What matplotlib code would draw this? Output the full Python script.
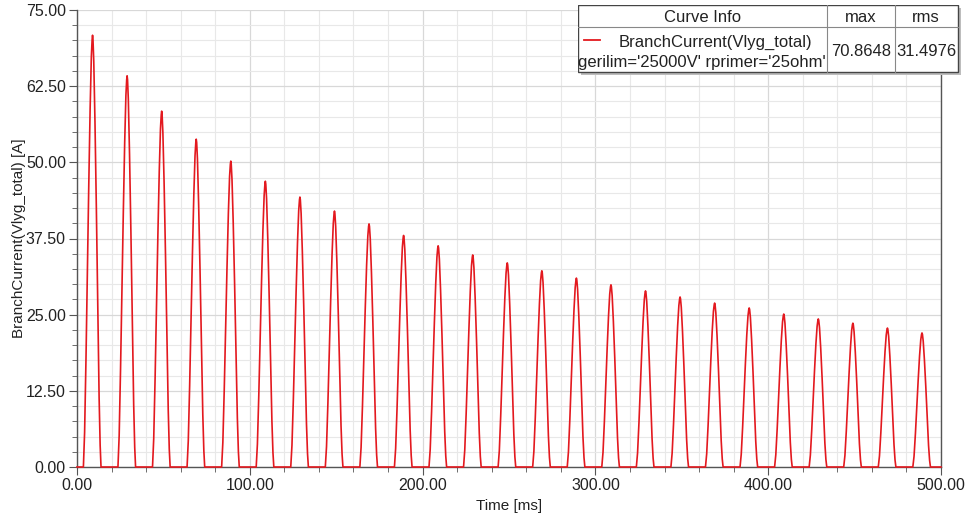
import numpy as np
import matplotlib.pyplot as plt
from matplotlib.patches import Rectangle
from matplotlib.ticker import MultipleLocator, FormatStrFormatter

plt.rcParams['font.family'] = ['Liberation Sans', 'DejaVu Sans']

# peak time (ms) and peak current (A) of every pulse
peak_times = [9, 29, 49, 69, 89, 109, 129, 149, 169, 189, 209, 229, 249,
              269, 289, 309, 329, 349, 369, 389, 409, 429, 449, 469, 489]
peak_values = [70.86, 64.2, 58.4, 53.8, 50.2, 46.9, 44.3, 42.0, 39.9, 38.0,
               36.3, 34.8, 33.5, 32.2, 31.0, 29.9, 28.9, 27.9, 26.9, 26.1,
               25.1, 24.3, 23.6, 22.8, 22.0]

# shape of a single pulse: offset from peak (ms) and fraction of the peak
pulse_offsets = [-5.3, -4.6, -3.8, -3.0, -2.2, -1.4, -0.7, -0.25, 0.0,
                 0.25, 0.7, 1.4, 2.2, 3.0, 3.8, 4.4, 4.9]
pulse_shape = [0.0, 0.08, 0.25, 0.45, 0.65, 0.83, 0.95, 0.99, 1.0,
               0.99, 0.94, 0.80, 0.60, 0.38, 0.16, 0.05, 0.0]

curve_name = "BranchCurrent(Vlyg_total)"
curve_params = "gerilim='25000V' rprimer='25ohm'"
curve_max = "70.8648"
curve_rms = "31.4976"

# build the waveform
t = [0.0]
y = [0.0]
for tp, vp in zip(peak_times, peak_values):
    t.extend(tp + np.array(pulse_offsets))
    y.extend(vp * np.array(pulse_shape))
t.append(500.0)
y.append(0.0)

fig = plt.figure(figsize=(9.65, 5.21), dpi=100)
ax = fig.add_axes([77 / 965, 1 - 467 / 521, 864 / 965, 457 / 521])

ax.plot(t, y, color='#e3191f', lw=1.2, zorder=3, clip_on=False)

ax.set_xlim(0, 500)
ax.set_ylim(0, 75)
ax.xaxis.set_major_locator(MultipleLocator(100))
ax.xaxis.set_minor_locator(MultipleLocator(20))
ax.yaxis.set_major_locator(MultipleLocator(12.5))
ax.yaxis.set_minor_locator(MultipleLocator(2.5))
ax.xaxis.set_major_formatter(FormatStrFormatter('%.2f'))
ax.yaxis.set_major_formatter(FormatStrFormatter('%.2f'))

ax.grid(which='major', color='#d8d8d8', lw=0.9)
ax.grid(which='minor', color='#e8e8e8', lw=0.8)
ax.set_axisbelow(True)

ax.spines['top'].set_visible(False)
for s in ['left', 'bottom', 'right']:
    ax.spines[s].set_color('#555555')
    ax.spines[s].set_linewidth(1.0)

ax.tick_params(which='major', length=6, color='#555555', labelsize=11.5,
               labelcolor='#222222', pad=2)
ax.tick_params(which='minor', length=3.5, color='#555555')

ax.set_xlabel('Time [ms]', fontsize=11, color='#222222', labelpad=4)
ax.set_ylabel(curve_name + ' [A]', fontsize=11, color='#222222', labelpad=0)

# curve info table in the top right corner (pixel units)
tab = fig.add_axes([578 / 965, 1 - 75 / 521, 384 / 965, 70 / 521])
tab.set_xlim(0, 384)
tab.set_ylim(70, 0)
tab.axis('off')
tab.add_patch(Rectangle((3, 3), 380, 67, facecolor='#bdbdbd', edgecolor='none'))
tab.add_patch(Rectangle((0, 0), 380, 67, facecolor='white', edgecolor='#444444', lw=1.0))
tab.plot([0, 380], [22, 22], color='#888888', lw=0.8)
tab.plot([249, 249], [0, 67], color='#888888', lw=0.8)
tab.plot([317, 317], [0, 67], color='#888888', lw=0.8)

fs = 12
tab.text(125, 12, 'Curve Info', ha='center', va='center', fontsize=fs, color='#222222')
tab.text(283, 12, 'max', ha='center', va='center', fontsize=fs, color='#222222')
tab.text(348, 12, 'rms', ha='center', va='center', fontsize=fs, color='#222222')
tab.plot([6, 22], [35, 35], color='#e3191f', lw=1.3)
tab.text(137, 37, curve_name, ha='center', va='center', fontsize=fs, color='#222222')
tab.text(124, 57, curve_params, ha='center', va='center', fontsize=fs, color='#222222')
tab.text(283, 46, curve_max, ha='center', va='center', fontsize=fs, color='#222222')
tab.text(348, 46, curve_rms, ha='center', va='center', fontsize=fs, color='#222222')

fig.savefig('out.png', dpi=100)
